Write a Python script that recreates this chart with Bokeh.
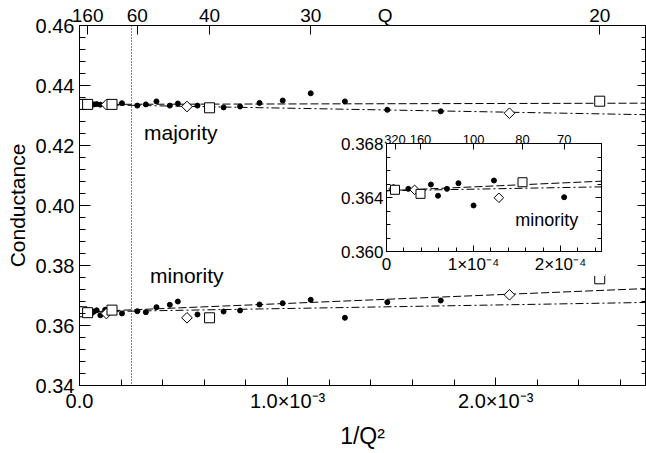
import numpy as np
from bokeh.plotting import figure
from bokeh.models import Range1d, LinearAxis, FixedTicker, Span, Label, CustomLabelingPolicy
from bokeh.embed import file_html
from bokeh.resources import INLINE

FONT = "Liberation Sans"

# ---------------- data ----------------
dot_Q = [200, 140, 130, 120, 110, 100, 90, 70, 60, 56, 52, 48, 46, 42, 38, 36, 34, 32, 30, 28, 26, 24]
dot_majority = [0.4337, 0.4338, 0.4336, 0.4337, 0.4338, 0.4336, 0.4337, 0.4341, 0.4333, 0.4337,
                0.4347, 0.4333, 0.4340, 0.4333, 0.4327, 0.4330, 0.4342, 0.4350, 0.4374, 0.4347,
                0.4319, 0.4314]
dot_minority = [0.36464, 0.36496, 0.36413, 0.36464, 0.36506, 0.36341, 0.36526, 0.36402, 0.36477,
                0.36443, 0.36610, 0.36690, 0.36800, 0.36367, 0.36467, 0.36500, 0.36700, 0.36743,
                0.36857, 0.36257, 0.36777, 0.36833]
sq_Q = [320, 160, 80, 40, 20]
sq_majority = [0.4337, 0.4337, 0.4337, 0.43257, 0.43477]
sq_minority = [0.36457, 0.36427, 0.36513, 0.36257, 0.37557]
dia_Q = [352, 176, 88, 44, 22]
dia_majority = [0.4337, 0.4337, 0.4336, 0.4330, 0.43077]
dia_minority = [0.36464, 0.36457, 0.36398, 0.36257, 0.37023]

# linear fits  G = a + b / Q^2
fit_majority_a = 0.4337
fit_majority_b_dashed = 0.15
fit_majority_b_dashdot = -1.26
fit_minority_a = 0.3645
fit_minority_b_dashed = 2.87
fit_minority_b_dashdot = 1.17

# axes
x_max = 2.72e-3
y_min, y_max = 0.34, 0.46
x_ticks = [0.0, 1e-3, 2e-3]
x_tick_labels = ["0.0", "1.0×10⁻³", "2.0×10⁻³"]
y_ticks = [0.34, 0.36, 0.38, 0.40, 0.42, 0.44, 0.46]
y_tick_labels = ["0.34", "0.36", "0.38", "0.40", "0.42", "0.44", "0.46"]
top_Q = [160, 60, 40, 30, 20]
top_title = "Q"
top_title_x = 1.469e-3
inset_split = 2.5e-4

inset_x_max = 2.47e-4
inset_y_min, inset_y_max = 0.360, 0.368
inset_x_ticks = [0.0, 1e-4, 2e-4]
inset_x_tick_labels = ["0", "1×10⁻⁴", "2×10⁻⁴"]
inset_y_ticks = [0.360, 0.364, 0.368]
inset_y_tick_labels = ["0.360", "0.364", "0.368"]
inset_top_Q = [320, 160, 100, 80, 70]

HIDE_ALL = CustomLabelingPolicy(code="""
const all = [...indices]
for (const i of all) indices.unset(i)
return indices
""")


def inv2(q):
    return [1.0 / (v * v) for v in q]


def style_axis(ax, size_major, size_minor, font_size):
    ax.major_tick_in = size_major
    ax.major_tick_out = 0
    ax.minor_tick_in = size_minor
    ax.minor_tick_out = 0
    ax.axis_line_color = "black"
    ax.major_tick_line_color = "black"
    ax.minor_tick_line_color = "black"
    ax.major_label_text_font = FONT
    ax.major_label_text_font_size = font_size
    ax.major_label_text_color = "black"
    ax.axis_label_text_font = FONT
    ax.axis_label_text_font_style = "normal"
    ax.axis_label_text_color = "black"


def unlabeled_axis(ticks, minor, major_len, minor_len):
    ax = LinearAxis(ticker=FixedTicker(ticks=ticks, minor_ticks=minor))
    style_axis(ax, major_len, minor_len, "1px")
    ax.major_label_overrides = {t: "" for t in ticks}
    ax.major_label_policy = HIDE_ALL
    ax.major_label_standoff = 0
    return ax


def labels_only_axis(ticks, labels, font_size):
    ax = LinearAxis(ticker=FixedTicker(ticks=ticks, minor_ticks=[]))
    style_axis(ax, 0, 0, font_size)
    ax.major_label_overrides = dict(zip(ticks, labels))
    ax.axis_line_color = None
    ax.major_tick_line_color = None
    ax.minor_tick_line_color = None
    ax.major_label_standoff = 0
    return ax


def draw_series(fig, x_end, size_sq, size_dot):
    for a, bd, bdd in [(fit_majority_a, fit_majority_b_dashed, fit_majority_b_dashdot),
                       (fit_minority_a, fit_minority_b_dashed, fit_minority_b_dashdot)]:
        xs = [0.0, x_end]
        fig.line(xs, [a + bd * v for v in xs], line_color="black", line_width=1, line_dash="8 3")
        fig.line(xs, [a + bdd * v for v in xs], line_color="black", line_width=1, line_dash="8 3 2 3")
    for vals in (dot_majority, dot_minority):
        fig.scatter(inv2(dot_Q), vals, marker="circle", size=size_dot, fill_color="black",
                    line_color="black")
    for vals in (dia_majority, dia_minority):
        fig.scatter(inv2(dia_Q), vals, marker="square", angle=np.pi / 4, size=size_sq * 0.75,
                    fill_color="white", line_color="black", line_width=1)
    for vals in (sq_majority, sq_minority):
        fig.scatter(inv2(sq_Q), vals, marker="square", size=size_sq, fill_color="white",
                    line_color="black", line_width=1)


# ---------------- main figure ----------------
p = figure(width=646, height=453, x_range=Range1d(0, x_max), y_range=Range1d(y_min, y_max),
           output_backend="svg", toolbar_location=None,
           min_border_left=79, min_border_right=1, min_border_top=25, min_border_bottom=68)
p.grid.visible = False
p.outline_line_color = "black"
p.outline_line_width = 1
p.background_fill_color = "white"
p.border_fill_color = "white"

xa = p.xaxis[0]
xa.ticker = FixedTicker(ticks=x_ticks, minor_ticks=list(np.arange(0, x_max, 2e-4)))
xa.major_label_overrides = dict(zip(x_ticks, x_tick_labels))
style_axis(xa, 8, 6, "20px")
xa.major_label_standoff = 4
xa.axis_label = "1/Q²"
xa.axis_label_text_font_size = "23px"
xa.axis_label_standoff = 8

ya = p.yaxis[0]
ya.ticker = FixedTicker(ticks=y_ticks, minor_ticks=list(np.arange(y_min, y_max + 1e-9, 0.004)))
ya.major_label_overrides = dict(zip(y_ticks, y_tick_labels))
style_axis(ya, 11, 6, "20px")
ya.major_label_standoff = 5
ya.axis_label = "Conductance"
ya.axis_label_text_font_size = "21px"
ya.axis_label_standoff = 4

# top axis: tick marks (inner) + labels incl. the "Q" title (outer)
p.add_layout(unlabeled_axis(inv2(top_Q), [], 9, 0), "above")
p.add_layout(labels_only_axis(inv2(top_Q) + [top_title_x],
                              [str(q) for q in top_Q] + [top_title], "19px"), "above")

p.add_layout(unlabeled_axis(y_ticks, list(np.arange(y_min, y_max + 1e-9, 0.004)), 8, 4), "right")

p.add_layout(Span(location=inset_split, dimension="height", line_color="black",
                  line_width=1, line_dash="1 2"))

draw_series(p, x_max, 10, 5)

p.add_layout(Label(x=3.1e-4, y=0.4244, text="majority", text_font=FONT, text_font_size="21px",
                   text_color="black", text_baseline="alphabetic"))
p.add_layout(Label(x=3.39e-4, y=0.3768, text="minority", text_font=FONT, text_font_size="21px",
                   text_color="black", text_baseline="alphabetic"))

# ---------------- inset ----------------
inset = figure(frame_width=215, frame_height=108,
               x_range=Range1d(0, inset_x_max), y_range=Range1d(inset_y_min, inset_y_max),
               output_backend="svg", toolbar_location=None,
               min_border_left=48, min_border_right=4, min_border_top=20, min_border_bottom=25)
inset.grid.visible = False
inset.outline_line_color = "black"
inset.background_fill_color = "white"
inset.border_fill_color = "white"
inset.styles = {"position": "absolute", "left": f"{385 - 48}px", "top": f"{143 - 20}px"}

ixa = inset.xaxis[0]
ixa.ticker = FixedTicker(ticks=inset_x_ticks, minor_ticks=list(np.arange(0, inset_x_max, 2e-5)))
ixa.major_label_overrides = dict(zip(inset_x_ticks, inset_x_tick_labels))
style_axis(ixa, 6, 4, "17px")
ixa.major_label_standoff = 3

iya = inset.yaxis[0]
iya.ticker = FixedTicker(ticks=inset_y_ticks,
                         minor_ticks=list(np.arange(inset_y_min, inset_y_max + 1e-9, 0.001)))
iya.major_label_overrides = dict(zip(inset_y_ticks, inset_y_tick_labels))
style_axis(iya, 6, 4, "17px")
iya.major_label_standoff = 3

itop = LinearAxis(ticker=FixedTicker(ticks=inv2(inset_top_Q), minor_ticks=[]))
itop.major_label_overrides = dict(zip(inv2(inset_top_Q), [str(q) for q in inset_top_Q]))
style_axis(itop, 6, 0, "13px")
itop.major_label_standoff = 0
inset.add_layout(itop, "above")

inset.add_layout(unlabeled_axis(inset_y_ticks,
                                list(np.arange(inset_y_min, inset_y_max + 1e-9, 0.001)), 6, 4), "right")

draw_series(inset, inset_x_max, 9, 5)

inset.add_layout(Label(x=1.48e-4, y=0.3623, text="minority", text_font=FONT, text_font_size="18px",
                       text_color="black", text_baseline="alphabetic"))

open("out.html", "w").write(file_html([p, inset], INLINE))
